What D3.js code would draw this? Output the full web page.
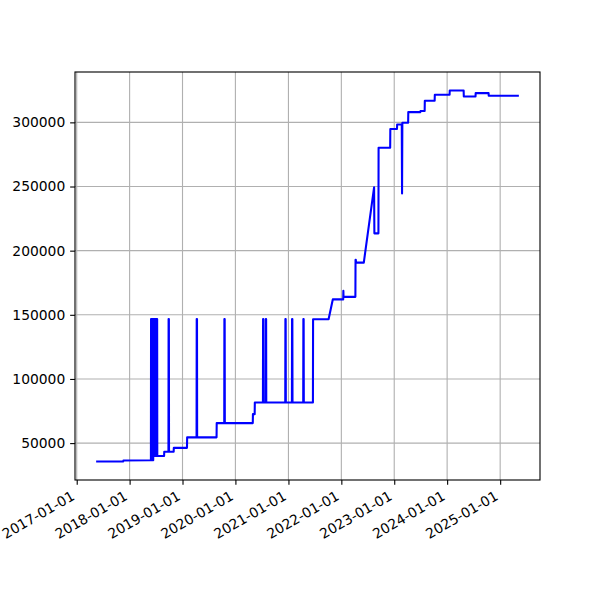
<!DOCTYPE html>
<html>
<head>
<meta charset="utf-8">
<script src="https://cdn.jsdelivr.net/npm/d3@7"></script>
<style>
  html, body { margin: 0; padding: 0; background: #fff; }
  text { font-family: "DejaVu Sans", sans-serif; }
</style>
</head>
<body>
<div id="chart"></div>
<script>
// ---- data ----
const dates = [
  "2017-05-15","2017-11-18","2017-11-19","2018-05-28",
  "2018-05-29","2018-05-31","2018-06-01","2018-06-05",
  "2018-06-06","2018-06-08","2018-06-09","2018-06-13",
  "2018-06-14","2018-06-16","2018-06-17","2018-06-21",
  "2018-06-22","2018-06-24","2018-06-25","2018-06-29",
  "2018-06-30","2018-07-02","2018-07-03","2018-07-07",
  "2018-07-08","2018-07-10","2018-07-11",
  "2018-08-27","2018-08-28",
  "2018-09-26","2018-09-27","2018-09-29","2018-09-30",
  "2018-11-01","2018-11-02","2019-02-01","2019-02-02",
  "2019-04-08","2019-04-09","2019-04-11","2019-04-12",
  "2019-08-24","2019-08-25",
  "2019-10-16","2019-10-17","2019-10-19","2019-10-20",
  "2020-04-30","2020-05-01","2020-05-13","2020-05-14",
  "2020-07-09","2020-07-10","2020-07-12","2020-07-13",
  "2020-07-28","2020-07-29","2020-07-31","2020-08-01",
  "2020-12-10","2020-12-11","2020-12-13","2020-12-14",
  "2021-01-25","2021-01-26","2021-01-28","2021-01-29",
  "2021-04-13","2021-04-14","2021-04-16","2021-04-17",
  "2021-06-19","2021-06-20",
  "2021-10-05","2021-11-03",
  "2022-01-14","2022-01-15","2022-01-16",
  "2022-04-08","2022-04-09","2022-04-11","2022-04-12",
  "2022-06-05","2022-08-15","2022-08-17","2022-09-14","2022-09-15",
  "2022-12-04","2022-12-05","2023-01-20","2023-01-21",
  "2023-02-22","2023-02-24","2023-02-26",
  "2023-04-07","2023-04-08","2023-06-30","2023-07-01",
  "2023-07-30","2023-07-31","2023-10-07","2023-10-08",
  "2024-01-18","2024-01-19","2024-04-24","2024-04-25",
  "2024-07-15","2024-07-16","2024-10-13","2024-10-14",
  "2025-05-10"
];
const values = [
  35700, 35700, 36400, 36600,
  146800, 146800, 36600, 36600,
  146800, 146800, 36600, 36600,
  146800, 146800, 40000, 40000,
  146800, 146800, 40000, 40000,
  146800, 146800, 40000, 40000,
  146800, 146800, 40000,
  40000, 43300,
  43300, 146800, 146800, 43300,
  43300, 46300, 46300, 54500,
  54500, 146800, 146800, 54500,
  54500, 65600,
  65600, 146800, 146800, 65600,
  65600, 72600, 72600, 81600,
  81600, 146800, 146800, 81600,
  81600, 146800, 146800, 81600,
  81600, 146800, 146800, 81600,
  81600, 146800, 146800, 81600,
  81600, 146800, 146800, 81600,
  81600, 146500,
  146500, 162000,
  162000, 168800, 164000,
  164000, 192800, 192800, 190700,
  190700, 249400, 213500, 213500, 280200,
  280200, 294800, 294800, 298400,
  298400, 244500, 299700,
  299700, 308000, 308000, 308800,
  308800, 316800, 316800, 321500,
  321500, 324800, 324800, 320200,
  320200, 322800, 322800, 320700,
  320700
];
const xTickLabels = ["2017-01-01","2018-01-01","2019-01-01","2020-01-01","2021-01-01",
                     "2022-01-01","2023-01-01","2024-01-01","2025-01-01"];
const yTickValues = [50000, 100000, 150000, 200000, 250000, 300000];

// ---- layout ----
const W = 600, H = 600;
const L = 75, R = 540, T = 72, B = 480;
const parse = d3.utcParse("%Y-%m-%d");
const data = dates.map((d, i) => ({ t: parse(d), v: values[i] }));

const tExt = d3.extent(data, d => +d.t);
const tPad = (tExt[1] - tExt[0]) * 0.05;
const vExt = d3.extent(data, d => d.v);
const vPad = (vExt[1] - vExt[0]) * 0.05;

const x = d3.scaleUtc().domain([new Date(tExt[0] - tPad), new Date(tExt[1] + tPad)]).range([L, R]);
const y = d3.scaleLinear().domain([vExt[0] - vPad, vExt[1] + vPad]).range([B, T]);

const svg = d3.select("#chart").append("svg")
  .attr("width", W).attr("height", H)
  .style("background", "#fff");

svg.append("defs").append("clipPath").attr("id", "clip")
  .append("rect").attr("x", L).attr("y", T).attr("width", R - L).attr("height", B - T);

const xTicks = xTickLabels.map(parse);
const fs = 13.89;
const tickLen = 4.86, pad = 4.86, lw = 1.11;

// grid
const grid = svg.append("g").attr("clip-path", "url(#clip)");
grid.selectAll("line.gx").data(xTicks).join("line")
  .attr("x1", d => x(d)).attr("x2", d => x(d))
  .attr("y1", T).attr("y2", B)
  .attr("stroke", "#b0b0b0").attr("stroke-width", lw);
grid.selectAll("line.gy").data(yTickValues).join("line")
  .attr("x1", L).attr("x2", R)
  .attr("y1", d => y(d)).attr("y2", d => y(d))
  .attr("stroke", "#b0b0b0").attr("stroke-width", lw);

// line
const line = d3.line().x(d => x(d.t)).y(d => y(d.v));
svg.append("path").datum(data)
  .attr("clip-path", "url(#clip)")
  .attr("d", line)
  .attr("fill", "none")
  .attr("stroke", "#0000ff")
  .attr("stroke-width", 2.08)
  .attr("stroke-linejoin", "round");

// axes via d3 axis generators
const xAxis = d3.axisBottom(x).tickValues(xTicks).tickFormat(d3.utcFormat("%Y-%m-%d"))
  .tickSize(tickLen).tickPadding(pad);
const gx = svg.append("g").attr("transform", `translate(0,${B})`).call(xAxis);
gx.select(".domain").remove();
gx.selectAll(".tick line").attr("stroke", "#000").attr("stroke-width", lw);
gx.selectAll(".tick text")
  .attr("font-size", fs).attr("fill", "#000")
  .attr("text-anchor", "end")
  .attr("dy", null).attr("y", null)
  .attr("transform", `translate(${-0.5 * 0.23 * fs},${tickLen + pad + 0.866 * 0.76 * fs}) rotate(-30)`);

const yAxis = d3.axisLeft(y).tickValues(yTickValues).tickFormat(d3.format("d"))
  .tickSize(tickLen).tickPadding(pad);
const gy = svg.append("g").attr("transform", `translate(${L},0)`).call(yAxis);
gy.select(".domain").remove();
gy.selectAll(".tick line").attr("stroke", "#000").attr("stroke-width", lw);
gy.selectAll(".tick text").attr("font-size", fs).attr("fill", "#000");

// frame
svg.append("rect").attr("x", L).attr("y", T).attr("width", R - L).attr("height", B - T)
  .attr("fill", "none").attr("stroke", "#000").attr("stroke-width", lw);
</script>
</body>
</html>
